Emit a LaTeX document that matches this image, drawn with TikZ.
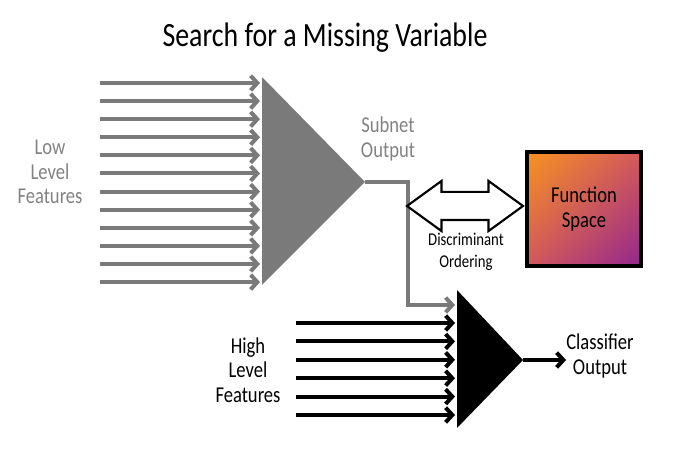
\documentclass[tikz,border=0pt]{standalone}
\usepackage{fontspec}
\setmainfont{Carlito}[FakeStretch=0.82]
\usetikzlibrary{arrows.meta,shapes.arrows,shadings}
\definecolor{netgray}{RGB}{122,122,122}
\definecolor{labelgray}{RGB}{130,130,130}
\definecolor{fsorange}{RGB}{247,148,30}
\definecolor{fsred}{RGB}{212,88,92}
\definecolor{fspurple}{RGB}{146,39,143}
\def\graysep{18.1}
\def\blacksep{18.4}

\begin{document}
\begin{tikzpicture}[x=0.75pt,y=-0.75pt,>={Straight Barb[length=5pt,width=11pt]}]
    \tikzstyle{gray input}=[->,draw=netgray,line width=3pt]
    \tikzstyle{black input}=[->,draw=black,line width=3pt]
    \tikzstyle{annot}=[align=center,inner sep=0pt,font=\fontsize{17}{18.5}\selectfont]
    \tikzstyle{small annot}=[align=center,inner sep=0pt,font=\fontsize{13.5}{16}\selectfont]

    \useasboundingbox (0,0) rectangle (690,470);

    \node[inner sep=0pt,font=\fontsize{25.5}{28}\selectfont] (TITLE) at (325,38) {Search for a Missing Variable};

    % Draw the subnet (gray) and the classifier (black)
    \coordinate (S-top) at (262,77);
    \coordinate (S-bot) at (262,285);
    \coordinate (S-out) at (365,182);
    \fill[netgray] (S-top) -- (S-bot) -- (S-out) -- cycle;

    \coordinate (C-top) at (457,290);
    \coordinate (C-bot) at (457,428);
    \coordinate (C-out) at (523,360);
    \fill[black] (C-top) -- (C-bot) -- (C-out) -- cycle;

    % Low level inputs into the subnet
    \foreach \y in {1,...,12}
    {
        \coordinate (L-\y) at (100,83+\graysep*\y-\graysep);
        \coordinate (LI-\y) at (260,83+\graysep*\y-\graysep);
        \draw[gray input] (L-\y) -- (LI-\y);
    }

    % High level inputs into the classifier
    \foreach \y in {1,...,6}
    {
        \coordinate (H-\y) at (296,323+\blacksep*\y-\blacksep);
        \coordinate (HI-\y) at (455,323+\blacksep*\y-\blacksep);
        \draw[black input] (H-\y) -- (HI-\y);
    }

    % Subnet output feeds the classifier
    \coordinate (S-bend) at (408,305);
    \coordinate (C-in) at (455,305);
    \draw[gray input,shorten >=0pt] (S-out) -| (S-bend) -- (C-in);

    \coordinate (C-end) at (566,360);
    \draw[black input] (C-out) -- (C-end);

    % Function space and the ordering arrow
    \shade[upper left=fsorange,upper right=fsred,lower left=fsred,lower right=fspurple]
        (526,152) rectangle (642,266);
    \node[draw=black,line width=3pt,minimum width=86pt,minimum height=85.5pt,inner sep=0pt,
          font=\fontsize{17}{18.5}\selectfont,align=center] (FS) at (584,209) {Function\\Space};

    \node[double arrow,draw=black,line width=1.6pt,fill=white,inner xsep=0pt,inner ysep=9.75pt,
          text height=0pt,text depth=0pt,minimum height=87pt,double arrow head extend=8.25pt,
          double arrow tip angle=72] (DA) at (465,206) {};

    \node[annot,text=labelgray] (LOW) at (50,172) {Low\\Level\\Features};
    \node[annot,text=labelgray] (SUB) at (388,139) {Subnet\\Output};
    \node[annot] (HIGH) at (248,370) {High\\Level\\Features};
    \node[annot] (COUT) at (600,356) {Classifier\\Output};
    \node[small annot] (DO) at (466,252) {Discriminant\\Ordering};
\end{tikzpicture}
\end{document}
